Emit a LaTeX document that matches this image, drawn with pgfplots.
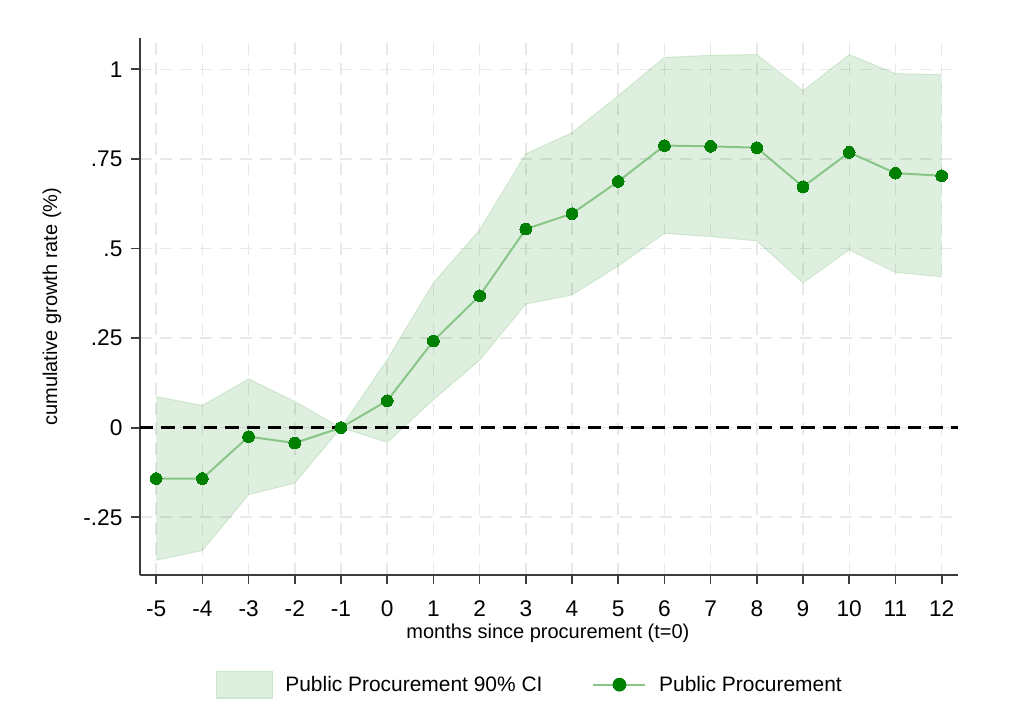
\documentclass[border=0pt]{standalone}
\usepackage{pgfplots}
\pgfplotsset{compat=1.18}
\usepackage{pgfplotstable}
\usepgfplotslibrary{fillbetween}
\usepackage{fontspec}
\setmainfont{Liberation Sans}

\definecolor{mkgreen}{RGB}{0,128,0}
\definecolor{lngreen}{RGB}{135,198,135}
\definecolor{cifill}{RGB}{0,128,0}
\definecolor{patchfill}{RGB}{223,239,223}
\definecolor{patchedge}{RGB}{206,230,206}
\definecolor{gridgray}{RGB}{232,232,232}
\definecolor{axgray}{RGB}{60,60,60}

\pgfplotstableread{
x   est     lo      hi
-5  -0.142  -0.370  0.087
-4  -0.142  -0.343  0.062
-3  -0.025  -0.187  0.136
-2  -0.043  -0.155  0.073
-1  0.000   0.000   0.000
0   0.075   -0.041  0.190
1   0.242   0.078   0.404
2   0.368   0.188   0.552
3   0.554   0.345   0.764
4   0.597   0.370   0.823
5   0.687   0.451   0.926
6   0.787   0.542   1.033
7   0.785   0.533   1.039
8   0.781   0.521   1.041
9   0.672   0.404   0.940
10  0.768   0.496   1.041
11  0.710   0.433   0.988
12  0.703   0.421   0.985
}\data

\newcommand{\fs}{\fontsize{15}{18}\selectfont}
\newcommand{\fl}{\fontsize{15.7}{18}\selectfont}
\newcommand{\ft}{\fontsize{17}{20}\selectfont}

\begin{document}
\begin{tikzpicture}
\begin{axis}[
  name=main,
  scale only axis,
  width=613.7pt, height=402.5pt,
  xmin=-5.35, xmax=12.36,
  ymin=-0.411, ymax=1.0865,
  axis lines*=left,
  axis line style={axgray, line width=1.3pt},
  every tick/.style={axgray, line width=1.3pt},
  tick align=outside,
  major tick length=7pt,
  xtick={-5,-4,-3,-2,-1,0,1,2,3,4,5,6,7,8,9,10,11,12},
  xticklabels={-5,-4,-3,-2,-1,0,1,2,3,4,5,6,7,8,9,10,11,12},
  ytick={-0.25,0,0.25,0.5,0.75,1},
  yticklabels={-.25,0,.25,.5,.75,1},
  xticklabel style={font=\ft, inner sep=0pt, anchor=north, yshift=-12pt},
  yticklabel style={font=\ft, inner sep=0pt, anchor=east, xshift=-6pt},
  grid=major,
  major grid style={gridgray, line width=1.1pt, dash pattern=on 9pt off 6pt},
  xlabel={months since procurement (t=0)},
  ylabel={cumulative growth rate (\%)},
  xlabel style={font=\fs, at={(axis description cs:0.4985,-0.1085)}, anchor=center},
  ylabel style={font=\fs, at={(axis description cs:-0.1076,0.5)}, anchor=center},
  legend columns=2,
  legend style={
    draw=none, fill=none, font=\fl,
    at={(axis description cs:0.4828,-0.2045)}, anchor=center,
    /tikz/every even column/.append style={column sep=28pt},
    nodes={inner sep=9.5pt},
  },
]
\addplot[name path=hi, draw=cifill, draw opacity=0.12, line width=0.8pt, forget plot] table[x=x,y=hi]{\data};
\addplot[name path=lo, draw=cifill, draw opacity=0.12, line width=0.8pt, forget plot] table[x=x,y=lo]{\data};
\addplot[fill=cifill, fill opacity=0.125, draw=none,
  legend image code/.code={\path[fill=patchfill, fill opacity=1, draw=patchedge, draw opacity=1, line width=0.8pt] (0pt,-10pt) rectangle (42pt,10pt);}]
  fill between[of=hi and lo];
\addlegendentry{Public Procurement 90\% CI}
\draw[black, line width=1.8pt, dash pattern=on 10pt off 6pt] (axis cs:-5.35,0) -- (axis cs:12.36,0);
\addplot[lngreen, line width=1.5pt, mark=*, mark size=4.4pt,
  mark options={fill=mkgreen, draw=mkgreen, line width=0pt},
  legend image code/.code={\draw[lngreen, line width=1.5pt] (0pt,0pt) -- (39pt,0pt);
     \fill[mkgreen] (19.5pt,0pt) circle (4.4pt);}]
  table[x=x,y=est]{\data};
\addlegendentry{Public Procurement}
\end{axis}
\pgfresetboundingbox
\path[use as bounding box] ([shift={(-105pt,-102.75pt)}]main.south west) rectangle ([shift={(49.3pt,28.7pt)}]main.north east);
\end{tikzpicture}
\end{document}
